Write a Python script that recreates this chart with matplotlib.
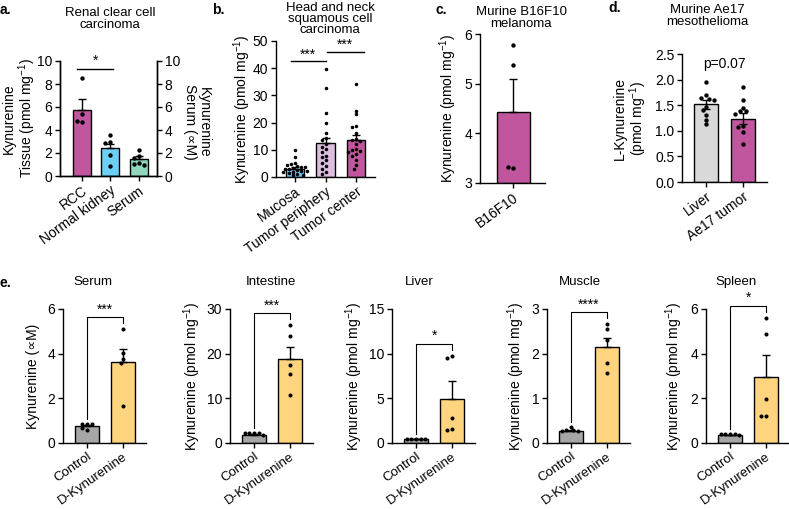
import numpy as np
import matplotlib
matplotlib.use("Agg")
import matplotlib.pyplot as plt

plt.rcParams['font.family'] = ['Liberation Sans', 'DejaVu Sans']
plt.rcParams['font.size'] = 10
plt.rcParams['mathtext.default'] = 'regular'
plt.rcParams['axes.linewidth'] = 1.0
plt.rcParams['xtick.major.width'] = 1.0
plt.rcParams['ytick.major.width'] = 1.0
plt.rcParams['xtick.major.size'] = 3.5
plt.rcParams['ytick.major.size'] = 3.5

# ---------------- DATA ----------------

# a. renal clear cell carcinoma
a_groups = ["RCC", "Normal kidney", "Serum"]
a_means = [5.75, 2.4, 1.5]
a_sem = [0.95, 0.4, 0.2]
a_points = [
    [8.5, 5.4, 4.7, 4.75],
    [3.6, 3.0, 2.9, 1.85, 0.9],
    [2.3, 1.75, 1.6, 1.1, 1.05, 1.0],
]

# b. head and neck squamous cell carcinoma
b_groups = ["Mucosa", "Tumor periphery", "Tumor center"]
b_means = [3.1, 12.4, 13.6]
b_sem = [0.55, 2.1, 1.75]
b_points = [
    [9.9, 7.4, 5.2, 4.6, 4.0, 3.7, 3.3, 3.1, 2.8, 2.5, 2.1, 1.9, 1.5, 1.2,
     0.9, 0.6, 3.5, 2.3, 1.7, 4.3],
    [39.8, 32.7, 23.7, 20.0, 16.0, 14.4, 13.6, 12.0, 11.1, 10.2, 9.3, 7.7,
     7.2, 6.2, 5.3, 4.1, 3.1, 1.9, 1.0],
    [34.3, 24.4, 23.1, 18.7, 18.5, 16.0, 13.8, 13.6, 13.2, 12.3, 10.2, 9.9,
     9.5, 9.3, 8.6, 7.8, 6.2, 4.3, 3.1],
]

# c. murine B16F10 melanoma
c_groups = ["B16F10"]
c_means = [4.42]
c_sem = [0.67]
c_points = [[5.78, 5.38, 3.30, 3.33]]

# d. murine Ae17 mesothelioma
d_groups = ["Liver", "Ae17 tumor"]
d_means = [1.52, 1.24]
d_sem = [0.09, 0.1]
d_points = [
    [1.96, 1.7, 1.65, 1.62, 1.6, 1.47, 1.4, 1.31, 1.22, 1.13],
    [1.85, 1.6, 1.45, 1.38, 1.38, 1.32, 1.1, 1.08, 0.98, 0.75],
]

# e. D-kynurenine treatment
e_tissues = ["Serum", "Intestine", "Liver", "Muscle", "Spleen"]
e_groups = ["Control", "D-Kynurenine"]
e_ctrl_means = [0.76, 1.9, 0.4, 0.27, 0.35]
e_ctrl_sem = [0.06, 0.1, 0.02, 0.02, 0.02]
e_dk_means = [3.62, 18.8, 4.9, 2.15, 2.96]
e_dk_sem = [0.58, 2.8, 2.0, 0.2, 0.98]
e_ctrl_points = [
    [0.85, 0.85, 0.86, 0.58, 0.67],
    [2.3, 2.3, 2.3, 2.3, 1.9],
    [0.45, 0.45, 0.45, 0.45, 0.42],
    [0.36, 0.3, 0.28, 0.27, 0.27],
    [0.4, 0.4, 0.4, 0.4, 0.38],
]
e_dk_points = [
    [5.1, 4.03, 3.76, 3.6, 1.66],
    [26.4, 23.9, 17.4, 15.4, 10.7],
    [9.75, 9.55, 2.8, 1.55, 1.45],
    [2.66, 2.55, 2.3, 1.79, 1.57],
    [5.6, 4.88, 1.97, 1.21, 1.21],
]
e_stars = ["***", "***", "*", "****", "*"]
e_ymax = [6, 30, 15, 3, 6]
e_ystep = [2, 10, 5, 1, 2]
e_ylabels = ["Kynurenine (∝M)"] + ["Kynurenine (pmol mg$^{-1}$)"] * 4

# colours
MAGENTA = "#c2569e"
BLUE = "#6dcff6"
GREEN = "#8fd6bd"
LAVENDER = "#dcbde0"
LIGHTGREY = "#d9d9d9"
GREY = "#a6a6a6"
YELLOW = "#ffd47f"

W, H = 789, 509
fig = plt.figure(figsize=(W / 100, H / 100), dpi=100)


def box(l, t, r, b):
    return [l / W, 1 - b / H, (r - l) / W, (b - t) / H]


def ftext(x, y, s, **kw):
    fig.text(x / W, 1 - y / H, s, **kw)


def ylabel_at(ax, text, left_px, width_px, right_edge_px, **kw):
    # right edge of the rotated label in pixels
    ax.set_ylabel(text, **kw)
    ax.yaxis.set_label_coords((right_edge_px - left_px) / width_px, 0.5)


def swarm_x(ax, x0, vals, dot_px):
    # simple beeswarm in display space so dots do not overlap
    disp = ax.transData.transform(np.column_stack([np.full(len(vals), x0), vals]))
    placed = []
    xs = []
    for px, py in disp:
        k = 0
        while True:
            cands = [0] if k == 0 else [-k, k]
            ok = None
            for c in cands:
                cx = px + c * dot_px * 0.55
                if all((cx - qx) ** 2 + (py - qy) ** 2 >= (dot_px * 0.95) ** 2
                       for qx, qy in placed):
                    ok = cx
                    break
            if ok is not None:
                placed.append((ok, py))
                xs.append(ok)
                break
            k += 1
    back = ax.transData.inverted().transform(np.column_stack([xs, disp[:, 1]]))
    return back[:, 0]


def bar_panel(ax, groups, means, sem, points, colours, xlim, ylim, width,
              dot_px=4.6, s=10, both=False, rot=36, xsize=10):
    x = np.arange(len(groups))
    ax.set_xlim(*xlim)
    ax.set_ylim(*ylim)
    ax.bar(x, np.array(means) - ylim[0], width, bottom=ylim[0], color=colours,
           edgecolor="black", linewidth=1.0, zorder=1)
    for i in range(len(groups)):
        yerr = [[sem[i]], [sem[i]]] if both else [[0], [sem[i]]]
        ax.errorbar(x[i], means[i], yerr=yerr, fmt="none", ecolor="black",
                    elinewidth=1.0, capsize=3.2, capthick=1.0, zorder=2)
        xs = swarm_x(ax, x[i], points[i], dot_px)
        ax.scatter(xs, points[i], s=s, color="black", zorder=3,
                   linewidths=0, clip_on=False)
    ax.set_xticks(x)
    ax.set_xticklabels(groups, rotation=rot, ha="right", rotation_mode="anchor",
                       fontsize=xsize)
    ax.spines["top"].set_visible(False)
    ax.spines["right"].set_visible(False)
    ax.tick_params(axis="both", pad=2)
    ax.tick_params(axis="y", labelsize=10)


# ---------------- PANEL A ----------------
ax = fig.add_axes(box(60, 61, 157, 176))
bar_panel(ax, a_groups, a_means, a_sem, a_points, [MAGENTA, BLUE, GREEN],
          (-0.78, 2.65), (0, 10), 0.64)
ax.set_yticks(np.arange(0, 11, 2))
ylabel_at(ax, "Kynurenine\nTissue (pmol mg$^{-1}$)", 60, 97, 38,
          linespacing=1.05)
ax.spines["right"].set_visible(True)
ax2 = ax.twinx()
ax2.set_ylim(0, 10)
ax2.set_yticks(np.arange(0, 11, 2))
ax2.spines["top"].set_visible(False)
ax2.tick_params(axis="y", pad=2, labelsize=10)
ftext(197, 122, "Kynurenine\nSerum (∝M)", rotation=270, ha="center",
      va="center", linespacing=1.05)
ax.plot([-0.18, 1.1], [9.3, 9.3], color="black", lw=1.0)
ax.text(0.46, 9.4, "*", ha="center", va="bottom", fontsize=10)
ftext(110, 19, "Renal clear cell\ncarcinoma", ha="center", va="center",
      fontsize=9.5, linespacing=1.0)
ftext(0, 10, "a.", fontsize=10, fontweight="bold", va="center")

# ---------------- PANEL B ----------------
ax = fig.add_axes(box(276, 41, 375, 177))
bar_panel(ax, b_groups, b_means, b_sem, b_points, [BLUE, LAVENDER, MAGENTA],
          (-0.62, 2.62), (0, 50), 0.6, dot_px=3.6, s=6.5)
ax.set_yticks(np.arange(0, 51, 10))
ylabel_at(ax, "Kynurenine (pmol mg$^{-1}$)", 276, 99, 253)
ax.plot([-0.12, 1.0], [42.6, 42.6], color="black", lw=1.0)
ax.text(0.44, 42.4, "***", ha="center", va="bottom", fontsize=10)
ax.plot([1.05, 2.25], [46.1, 46.1], color="black", lw=1.0)
ax.text(1.65, 45.9, "***", ha="center", va="bottom", fontsize=10)
ftext(330, 19, "Head and neck\nsquamous cell\ncarcinoma", ha="center",
      va="center", fontsize=9.5, linespacing=0.9)
ftext(212, 10, "b.", fontsize=10, fontweight="bold", va="center")

# ---------------- PANEL C ----------------
ax = fig.add_axes(box(480, 34, 545, 183))
bar_panel(ax, c_groups, c_means, c_sem, c_points, [MAGENTA],
          (-0.6, 0.58), (3, 6), 0.6)
ax.set_yticks([3, 4, 5, 6])
ylabel_at(ax, "Kynurenine (pmol mg$^{-1}$)", 480, 65, 459)
ftext(521, 18, "Murine B16F10\nmelanoma", ha="center", va="center",
      fontsize=9.5, linespacing=0.95)
ftext(435, 10, "c.", fontsize=10, fontweight="bold", va="center")

# ---------------- PANEL D ----------------
ax = fig.add_axes(box(682, 54, 767, 182))
bar_panel(ax, d_groups, d_means, d_sem, d_points, [LIGHTGREY, MAGENTA],
          (-0.65, 1.65), (0, 2.5), 0.65, both=True)
ax.set_yticks(np.arange(0, 2.6, 0.5))
ax.set_yticklabels([f"{v:.1f}" for v in np.arange(0, 2.6, 0.5)])
ylabel_at(ax, "L-Kynurenine\n(pmol mg$^{-1}$)", 682, 85, 649, linespacing=1.05)
ax.text(0.5, 2.3, "p=0.07", ha="center", va="center", fontsize=10)
ftext(707, 16, "Murine Ae17\nmesothelioma", ha="center", va="center",
      fontsize=9.5, linespacing=1.0)
ftext(608, 8, "d.", fontsize=10, fontweight="bold", va="center")

# ---------------- PANEL E ----------------
e_left = [63, 230, 392, 547, 706]
e_label_gap = [23, 27, 27, 20, 21]
e_title_x = [93, 271, 419, 580, 736]
for i, tissue in enumerate(e_tissues):
    ax = fig.add_axes(box(e_left[i], 309, e_left[i] + 83, 443))
    pts = [e_ctrl_points[i], e_dk_points[i]]
    bar_panel(ax, e_groups, [e_ctrl_means[i], e_dk_means[i]],
              [e_ctrl_sem[i], e_dk_sem[i]], pts, [GREY, YELLOW],
              (-0.67, 1.64), (0, e_ymax[i]), 0.67, dot_px=4.2, s=8.5,
              rot=35, xsize=9.5)
    ax.set_yticks(np.arange(0, e_ymax[i] + 0.01, e_ystep[i]))
    ylabel_at(ax, e_ylabels[i], e_left[i], 83, e_left[i] - e_label_gap[i])
    # significance bracket
    top = max(pts[1]) + e_ymax[i] * 0.09
    left_end = max(pts[0]) + e_ymax[i] * 0.035
    right_end = max(pts[1]) + e_ymax[i] * 0.045
    ax.plot([0, 0, 1, 1], [left_end, top, top, right_end], color="black",
            lw=0.8, clip_on=False, zorder=4)
    ax.text(0.5, top + e_ymax[i] * 0.005, e_stars[i], ha="center", va="bottom",
            fontsize=10)
    ftext(e_title_x[i], 282, tissue, ha="center", va="center", fontsize=9.5)

ftext(0, 283, "e.", fontsize=10, fontweight="bold", va="center")

fig.savefig("out.png", dpi=100)
